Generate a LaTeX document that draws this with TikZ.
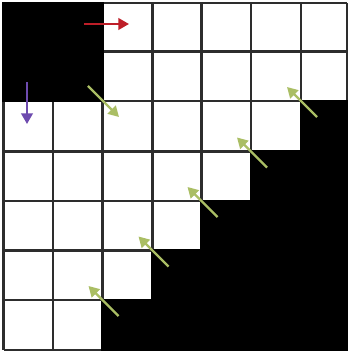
\documentclass[tikz,border=0pt]{standalone}
\usetikzlibrary{arrows.meta}
\definecolor{gridc}{RGB}{45,45,45}
\definecolor{redarr}{RGB}{190,30,40}
\definecolor{purparr}{RGB}{110,75,175}
\definecolor{greenarr}{RGB}{170,190,100}
\tikzset{
  gridline/.style={draw=gridc, line width=1.4pt},
  blackarea/.style={fill=black, draw=black, line width=1.4pt},
  arr/.style={line width=1.3pt, -{Triangle[length=6pt,width=6.5pt]}},
}
\begin{document}
\begin{tikzpicture}[x=0.02cm,y=-0.02cm]
\useasboundingbox (0,0) rectangle (350,354);
\fill[white] (0,0) rectangle (350,354);
% grid
\foreach \xx in {3.5,53,102.5,152.5,201.5,251,301,347}
  \draw[gridline] (\xx,3) -- (\xx,350);
\foreach \yy in {3,51.5,101,151.5,201,250.5,300,350}
  \draw[gridline] (3.5,\yy) -- (347,\yy);
% black regions
\path[blackarea] (3.5,3) rectangle (102.5,101);
\path[blackarea] (301,101) -- (347,101) -- (347,350) -- (102.5,350) -- (102.5,300)
  -- (152.5,300) -- (152.5,250.5) -- (201.5,250.5) -- (201.5,201) -- (251,201)
  -- (251,151.5) -- (301,151.5) -- cycle;
% arrows
\draw[arr, redarr] (84,24) -- (129,24);
\draw[arr, purparr] (27,82) -- (27,124);
\draw[arr, greenarr] (88,86) -- (119,117);
\foreach \cx/\cy in {301/101, 251/151.5, 201.5/201, 152.5/250.5, 102.5/300}
  \draw[arr, greenarr] (\cx+16,\cy+16) -- (\cx-14,\cy-14);
\end{tikzpicture}
\end{document}
